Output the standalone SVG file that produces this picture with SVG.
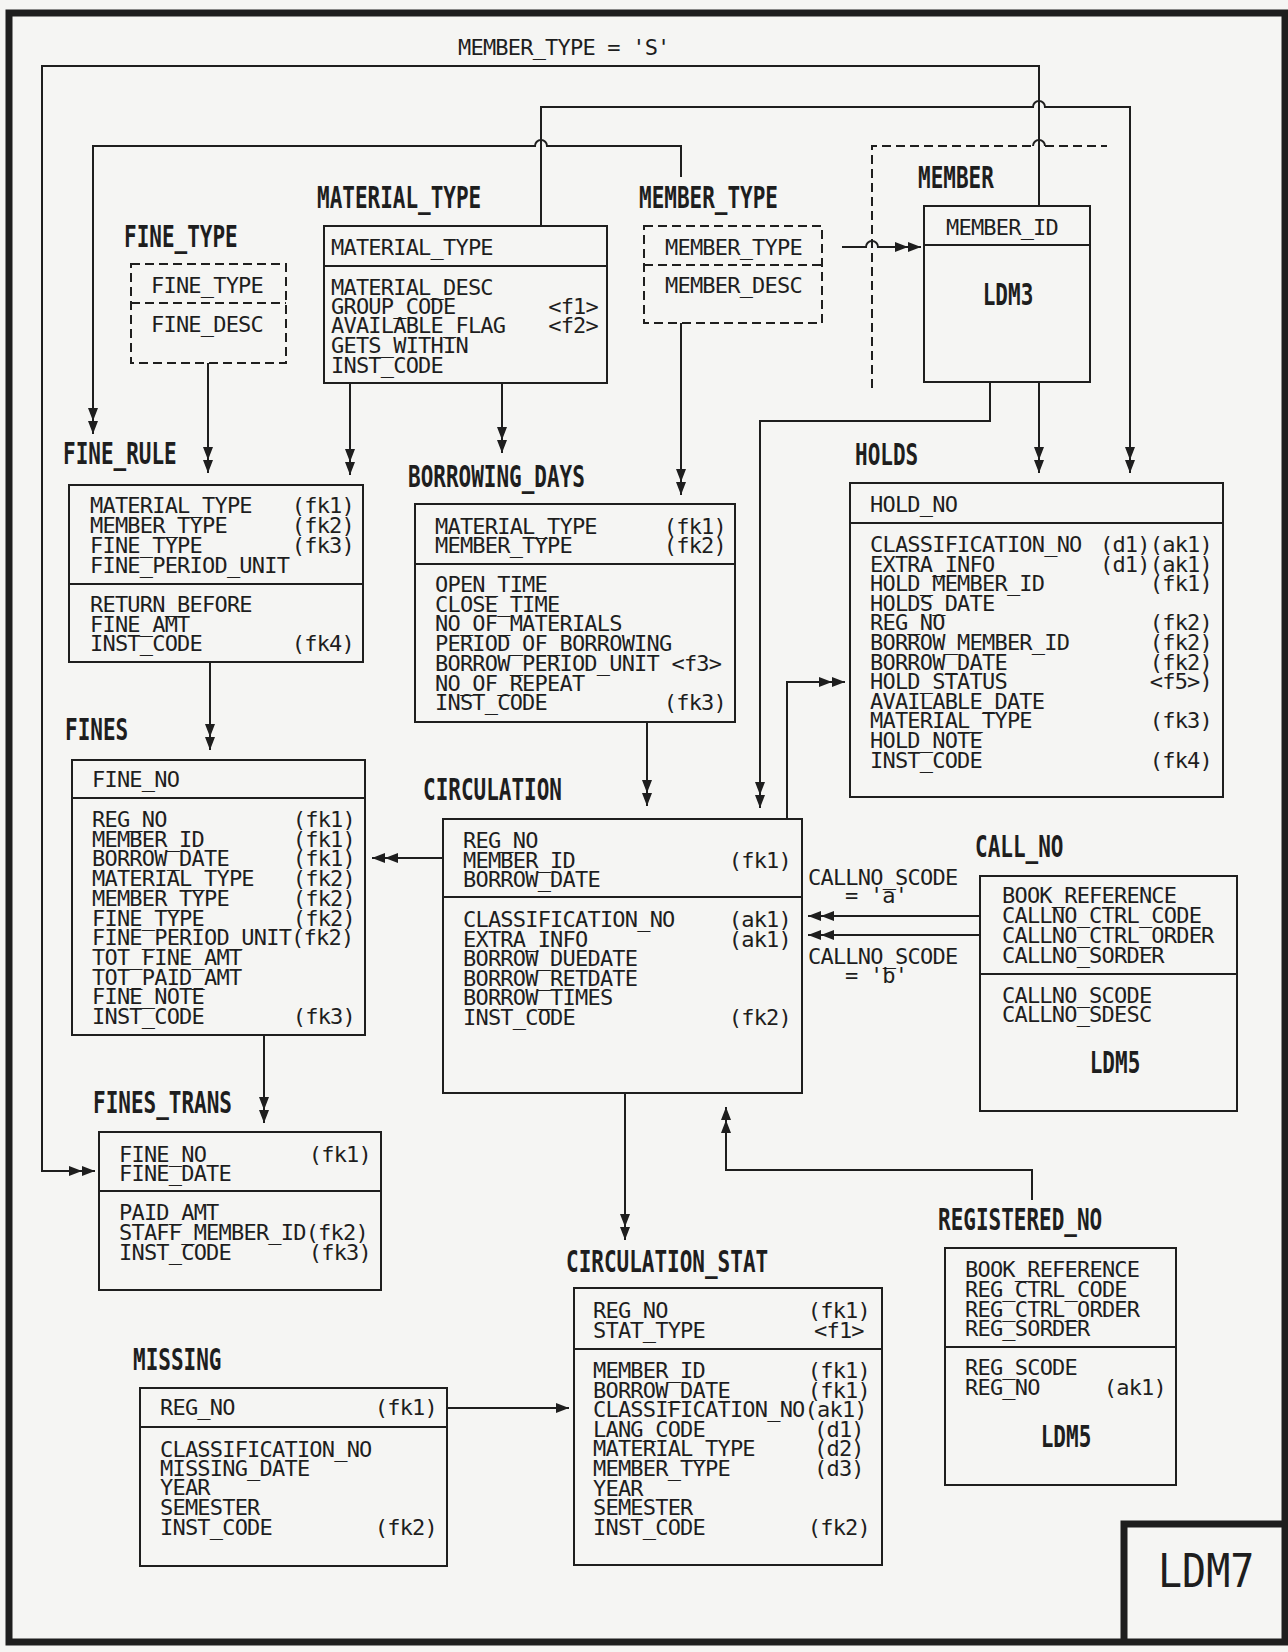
<svg xmlns="http://www.w3.org/2000/svg" width="1288" height="1652" viewBox="0 0 1288 1652">
<style>
.a{font-family:"DejaVu Sans Mono","Liberation Mono",monospace;font-size:22px;letter-spacing:-0.8px;fill:#1e1e1e}
.tg{font-family:"DejaVu Sans Mono","Liberation Mono",monospace;font-size:22px;letter-spacing:-0.8px;fill:#1e1e1e;text-anchor:end}
.lb{font-family:"DejaVu Sans Mono","Liberation Mono",monospace;font-weight:bold;font-size:21px;fill:#1e1e1e}
.box{fill:none;stroke:#1e1e1e;stroke-width:2}
.dash{stroke-dasharray:9 5}
.cn{fill:none;stroke:#1e1e1e;stroke-width:2}
.thick{fill:none;stroke:#1e1e1e;stroke-width:7}
</style>
<defs>
<marker id="dbl" viewBox="0 0 26 12" refX="26" refY="6" markerWidth="26" markerHeight="12" orient="auto" markerUnits="userSpaceOnUse"><path d="M0,1 L13,6 L0,11 Z M13,1 L26,6 L13,11 Z" fill="#1e1e1e"/></marker>
<marker id="sgl" viewBox="0 0 13 12" refX="13" refY="6" markerWidth="13" markerHeight="12" orient="auto" markerUnits="userSpaceOnUse"><path d="M0,1 L13,6 L0,11 Z" fill="#1e1e1e"/></marker>
</defs>
<rect x="0" y="0" width="1288" height="1652" fill="#f5f5f3"/>
<g id="frame">
<rect class="thick" x="9" y="13" width="1276" height="1629"/>
<path class="thick" d="M1124 1642 V1524 H1285"/>
<text transform="translate(1158 1587) scale(1 1.17)" style="font-family:'DejaVu Sans Mono','Liberation Mono',monospace;font-size:40px;fill:#1e1e1e">LDM7</text>
</g>

<g id="connectors">
<text class="a" x="458" y="55">MEMBER_TYPE = 'S'</text>
<path class="cn" d="M1039 206 V66 H42 V1171 H95" marker-end="url(#dbl)"/>
<path class="cn" d="M541 226 V107 H1033 A6 6 0 0 1 1045 107 H1130 V473" marker-end="url(#dbl)"/>
<path class="cn" d="M681 177 V146 H547 A6 6 0 0 0 535 146 H93 V434" marker-end="url(#dbl)"/>
<path class="cn dash" d="M872 388 V146 H1033"/>
<path class="cn" d="M1033 146 A6 6 0 0 1 1045 146"/>
<path class="cn dash" d="M1045 146 H1107"/>
<path class="cn" d="M842 247 H866 A6 6 0 0 1 878 247 H921" marker-end="url(#dbl)"/>
<path class="cn" d="M208 363 V473" marker-end="url(#dbl)"/>
<path class="cn" d="M350 383 V475" marker-end="url(#dbl)"/>
<path class="cn" d="M502 383 V453" marker-end="url(#dbl)"/>
<path class="cn" d="M681 323 V495" marker-end="url(#dbl)"/>
<path class="cn" d="M990 382 V421 H760 V808" marker-end="url(#dbl)"/>
<path class="cn" d="M1039 382 V473" marker-end="url(#dbl)"/>
<path class="cn" d="M210 662 V750" marker-end="url(#dbl)"/>
<path class="cn" d="M647 722 V806" marker-end="url(#dbl)"/>
<path class="cn" d="M787 819 V682 H845" marker-end="url(#dbl)"/>
<path class="cn" d="M443 858 H372" marker-end="url(#dbl)"/>
<path class="cn" d="M264 1035 V1123" marker-end="url(#dbl)"/>
<path class="cn" d="M980 916 H808" marker-end="url(#dbl)"/>
<path class="cn" d="M980 935 H808" marker-end="url(#dbl)"/>
<text class="a" x="808" y="885">CALLNO_SCODE</text>
<text class="a" x="845" y="903">= 'a'</text>
<text class="a" x="808" y="964">CALLNO_SCODE</text>
<text class="a" x="845" y="983">= 'b'</text>
<path class="cn" d="M625 1093 V1240" marker-end="url(#dbl)"/>
<path class="cn" d="M1032 1200 V1170 H726 V1107" marker-end="url(#dbl)"/>
<path class="cn" d="M447 1408 H569" marker-end="url(#sgl)"/>
</g>

<g id="fine_type">
<text class="lb" transform="translate(124 247) scale(1 1.4)">FINE_TYPE</text>
<rect class="box dash" x="131" y="264" width="155" height="99"/>
<line class="box dash" x1="131" y1="303" x2="286" y2="303"/>
<text class="a" x="151" y="293">FINE_TYPE</text>
<text class="a" x="151" y="332">FINE_DESC</text>
</g>

<g id="material_type">
<text class="lb" transform="translate(317 208) scale(1 1.4)">MATERIAL_TYPE</text>
<rect class="box" x="324" y="226" width="283" height="157"/>
<line class="box" x1="324" y1="266" x2="607" y2="266"/>
<text class="a" x="331" y="255">MATERIAL_TYPE</text>
<text class="a" x="331" y="295">MATERIAL_DESC</text>
<text class="a" x="331" y="314">GROUP_CODE</text>
<text class="a" x="331" y="333">AVAILABLE_FLAG</text>
<text class="a" x="331" y="353">GETS_WITHIN</text>
<text class="a" x="331" y="373">INST_CODE</text>
<text class="tg" x="598" y="314">&lt;f1&gt;</text>
<text class="tg" x="598" y="333">&lt;f2&gt;</text>
</g>

<g id="member_type">
<text class="lb" transform="translate(639 208) scale(1 1.4)">MEMBER_TYPE</text>
<rect class="box dash" x="644" y="226" width="178" height="97"/>
<line class="box dash" x1="644" y1="265" x2="822" y2="265"/>
<text class="a" x="665" y="255">MEMBER_TYPE</text>
<text class="a" x="665" y="293">MEMBER_DESC</text>
</g>

<g id="member">
<text class="lb" transform="translate(918 188) scale(1 1.4)">MEMBER</text>
<rect class="box" x="924" y="206" width="166" height="176"/>
<line class="box" x1="924" y1="245" x2="1090" y2="245"/>
<text class="a" x="946" y="235">MEMBER_ID</text>
<text class="lb" text-anchor="middle" transform="translate(1008 305) scale(1 1.4)">LDM3</text>
</g>

<g id="fine_rule">
<text class="lb" transform="translate(63 464) scale(1 1.4)">FINE_RULE</text>
<rect class="box" x="69" y="485" width="294" height="177"/>
<line class="box" x1="69" y1="584" x2="363" y2="584"/>
<text class="a" x="90" y="513">MATERIAL_TYPE</text>
<text class="a" x="90" y="533">MEMBER_TYPE</text>
<text class="a" x="90" y="553">FINE_TYPE</text>
<text class="a" x="90" y="573">FINE_PERIOD_UNIT</text>
<text class="a" x="90" y="612">RETURN_BEFORE</text>
<text class="a" x="90" y="632">FINE_AMT</text>
<text class="a" x="90" y="651">INST_CODE</text>
<text class="tg" x="354" y="513">(fk1)</text>
<text class="tg" x="354" y="533">(fk2)</text>
<text class="tg" x="354" y="553">(fk3)</text>
<text class="tg" x="354" y="651">(fk4)</text>
</g>

<g id="borrowing_days">
<text class="lb" transform="translate(408 487) scale(1 1.4)">BORROWING_DAYS</text>
<rect class="box" x="415" y="504" width="320" height="218"/>
<line class="box" x1="415" y1="564" x2="735" y2="564"/>
<text class="a" x="435" y="534">MATERIAL_TYPE</text>
<text class="a" x="435" y="553">MEMBER_TYPE</text>
<text class="a" x="435" y="592">OPEN_TIME</text>
<text class="a" x="435" y="611.7">CLOSE_TIME</text>
<text class="a" x="435" y="631.4">NO_OF_MATERIALS</text>
<text class="a" x="435" y="651">PERIOD_OF_BORROWING</text>
<text class="a" x="435" y="670.8">BORROW_PERIOD_UNIT &lt;f3&gt;</text>
<text class="a" x="435" y="690.5">NO_OF_REPEAT</text>
<text class="a" x="435" y="710">INST_CODE</text>
<text class="tg" x="726" y="534">(fk1)</text>
<text class="tg" x="726" y="553">(fk2)</text>
<text class="tg" x="726" y="710">(fk3)</text>
</g>

<g id="holds">
<text class="lb" transform="translate(855 465) scale(1 1.4)">HOLDS</text>
<rect class="box" x="850" y="483" width="373" height="314"/>
<line class="box" x1="850" y1="523" x2="1223" y2="523"/>
<text class="a" x="870" y="512">HOLD_NO</text>
<text class="a" x="870" y="552">CLASSIFICATION_NO</text>
<text class="a" x="870" y="571.6">EXTRA_INFO</text>
<text class="a" x="870" y="591.2">HOLD_MEMBER_ID</text>
<text class="a" x="870" y="610.8">HOLDS_DATE</text>
<text class="a" x="870" y="630.4">REG_NO</text>
<text class="a" x="870" y="650">BORROW_MEMBER_ID</text>
<text class="a" x="870" y="669.6">BORROW_DATE</text>
<text class="a" x="870" y="689.2">HOLD_STATUS</text>
<text class="a" x="870" y="708.8">AVAILABLE_DATE</text>
<text class="a" x="870" y="728.4">MATERIAL_TYPE</text>
<text class="a" x="870" y="748">HOLD_NOTE</text>
<text class="a" x="870" y="767.6">INST_CODE</text>
<text class="tg" x="1212" y="552">(d1)(ak1)</text>
<text class="tg" x="1212" y="571.6">(d1)(ak1)</text>
<text class="tg" x="1212" y="591.2">(fk1)</text>
<text class="tg" x="1212" y="630.4">(fk2)</text>
<text class="tg" x="1212" y="650">(fk2)</text>
<text class="tg" x="1212" y="669.6">(fk2)</text>
<text class="tg" x="1212" y="689.2">&lt;f5&gt;)</text>
<text class="tg" x="1212" y="728.4">(fk3)</text>
<text class="tg" x="1212" y="767.6">(fk4)</text>
</g>

<g id="fines">
<text class="lb" transform="translate(65 740) scale(1 1.4)">FINES</text>
<rect class="box" x="72" y="760" width="293" height="275"/>
<line class="box" x1="72" y1="798" x2="365" y2="798"/>
<text class="a" x="92" y="787">FINE_NO</text>
<text class="a" x="92" y="827">REG_NO</text>
<text class="a" x="92" y="846.7">MEMBER_ID</text>
<text class="a" x="92" y="866.4">BORROW_DATE</text>
<text class="a" x="92" y="886.1">MATERIAL_TYPE</text>
<text class="a" x="92" y="905.8">MEMBER_TYPE</text>
<text class="a" x="92" y="925.5">FINE_TYPE</text>
<text class="a" x="92" y="945.2">FINE_PERIOD_UNIT(fk2)</text>
<text class="a" x="92" y="964.9">TOT_FINE_AMT</text>
<text class="a" x="92" y="984.6">TOT_PAID_AMT</text>
<text class="a" x="92" y="1004.3">FINE_NOTE</text>
<text class="a" x="92" y="1024">INST_CODE</text>
<text class="tg" x="355" y="827">(fk1)</text>
<text class="tg" x="355" y="846.7">(fk1)</text>
<text class="tg" x="355" y="866.4">(fk1)</text>
<text class="tg" x="355" y="886.1">(fk2)</text>
<text class="tg" x="355" y="905.8">(fk2)</text>
<text class="tg" x="355" y="925.5">(fk2)</text>
<text class="tg" x="355" y="1024">(fk3)</text>
</g>

<g id="circulation">
<text class="lb" transform="translate(423 800) scale(1 1.4)">CIRCULATION</text>
<rect class="box" x="443" y="819" width="359" height="274"/>
<line class="box" x1="443" y1="897" x2="802" y2="897"/>
<text class="a" x="463" y="848">REG_NO</text>
<text class="a" x="463" y="868">MEMBER_ID</text>
<text class="a" x="463" y="887">BORROW_DATE</text>
<text class="a" x="463" y="927">CLASSIFICATION_NO</text>
<text class="a" x="463" y="947">EXTRA_INFO</text>
<text class="a" x="463" y="966">BORROW_DUEDATE</text>
<text class="a" x="463" y="986">BORROW_RETDATE</text>
<text class="a" x="463" y="1005">BORROW_TIMES</text>
<text class="a" x="463" y="1025">INST_CODE</text>
<text class="tg" x="791" y="868">(fk1)</text>
<text class="tg" x="791" y="927">(ak1)</text>
<text class="tg" x="791" y="947">(ak1)</text>
<text class="tg" x="791" y="1025">(fk2)</text>
</g>

<g id="call_no">
<text class="lb" transform="translate(975 857) scale(1 1.4)">CALL_NO</text>
<rect class="box" x="980" y="876" width="257" height="235"/>
<line class="box" x1="980" y1="974" x2="1237" y2="974"/>
<text class="a" x="1002" y="903">BOOK_REFERENCE</text>
<text class="a" x="1002" y="923">CALLNO_CTRL_CODE</text>
<text class="a" x="1002" y="943">CALLNO_CTRL_ORDER</text>
<text class="a" x="1002" y="963">CALLNO_SORDER</text>
<text class="a" x="1002" y="1003">CALLNO_SCODE</text>
<text class="a" x="1002" y="1022">CALLNO_SDESC</text>
<text class="lb" text-anchor="middle" transform="translate(1115 1073) scale(1 1.4)">LDM5</text>
</g>

<g id="fines_trans">
<text class="lb" transform="translate(93 1113) scale(1 1.4)">FINES_TRANS</text>
<rect class="box" x="99" y="1132" width="282" height="158"/>
<line class="box" x1="99" y1="1191" x2="381" y2="1191"/>
<text class="a" x="119" y="1162">FINE_NO</text>
<text class="a" x="119" y="1181">FINE_DATE</text>
<text class="a" x="119" y="1220">PAID_AMT</text>
<text class="a" x="119" y="1240">STAFF_MEMBER_ID(fk2)</text>
<text class="a" x="119" y="1260">INST_CODE</text>
<text class="tg" x="371" y="1162">(fk1)</text>
<text class="tg" x="371" y="1260">(fk3)</text>
</g>

<g id="registered_no">
<text class="lb" transform="translate(938 1230) scale(1 1.4)">REGISTERED_NO</text>
<rect class="box" x="945" y="1248" width="231" height="237"/>
<line class="box" x1="945" y1="1347" x2="1176" y2="1347"/>
<text class="a" x="965" y="1277">BOOK_REFERENCE</text>
<text class="a" x="965" y="1297">REG_CTRL_CODE</text>
<text class="a" x="965" y="1317">REG_CTRL_ORDER</text>
<text class="a" x="965" y="1336">REG_SORDER</text>
<text class="a" x="965" y="1375">REG_SCODE</text>
<text class="a" x="965" y="1395">REG_NO</text>
<text class="tg" x="1166" y="1395">(ak1)</text>
<text class="lb" text-anchor="middle" transform="translate(1066 1447) scale(1 1.4)">LDM5</text>
</g>

<g id="circulation_stat">
<text class="lb" transform="translate(566 1272) scale(1 1.4)">CIRCULATION_STAT</text>
<rect class="box" x="574" y="1288" width="308" height="277"/>
<line class="box" x1="574" y1="1349" x2="882" y2="1349"/>
<text class="a" x="593" y="1318">REG_NO</text>
<text class="a" x="593" y="1338">STAT_TYPE</text>
<text class="a" x="593" y="1378">MEMBER_ID</text>
<text class="a" x="593" y="1397.6">BORROW_DATE</text>
<text class="a" x="593" y="1417.2">CLASSIFICATION_NO(ak1)</text>
<text class="a" x="593" y="1436.8">LANG_CODE</text>
<text class="a" x="593" y="1456.4">MATERIAL_TYPE</text>
<text class="a" x="593" y="1476">MEMBER_TYPE</text>
<text class="a" x="593" y="1495.6">YEAR</text>
<text class="a" x="593" y="1515.2">SEMESTER</text>
<text class="a" x="593" y="1534.8">INST_CODE</text>
<text class="tg" x="870" y="1318">(fk1)</text>
<text class="a" x="814" y="1338">&lt;f1&gt;</text>
<text class="tg" x="870" y="1378">(fk1)</text>
<text class="tg" x="870" y="1397.6">(fk1)</text>
<text class="a" x="814" y="1436.8">(d1)</text>
<text class="a" x="814" y="1456.4">(d2)</text>
<text class="a" x="814" y="1476">(d3)</text>
<text class="tg" x="870" y="1534.8">(fk2)</text>
</g>

<g id="missing">
<text class="lb" transform="translate(133 1370) scale(1 1.4)">MISSING</text>
<rect class="box" x="140" y="1388" width="307" height="178"/>
<line class="box" x1="140" y1="1427" x2="447" y2="1427"/>
<text class="a" x="160" y="1415">REG_NO</text>
<text class="a" x="160" y="1457">CLASSIFICATION_NO</text>
<text class="a" x="160" y="1476">MISSING_DATE</text>
<text class="a" x="160" y="1495">YEAR</text>
<text class="a" x="160" y="1515">SEMESTER</text>
<text class="a" x="160" y="1535">INST_CODE</text>
<text class="tg" x="437" y="1415">(fk1)</text>
<text class="tg" x="437" y="1535">(fk2)</text>
</g>
</svg>
